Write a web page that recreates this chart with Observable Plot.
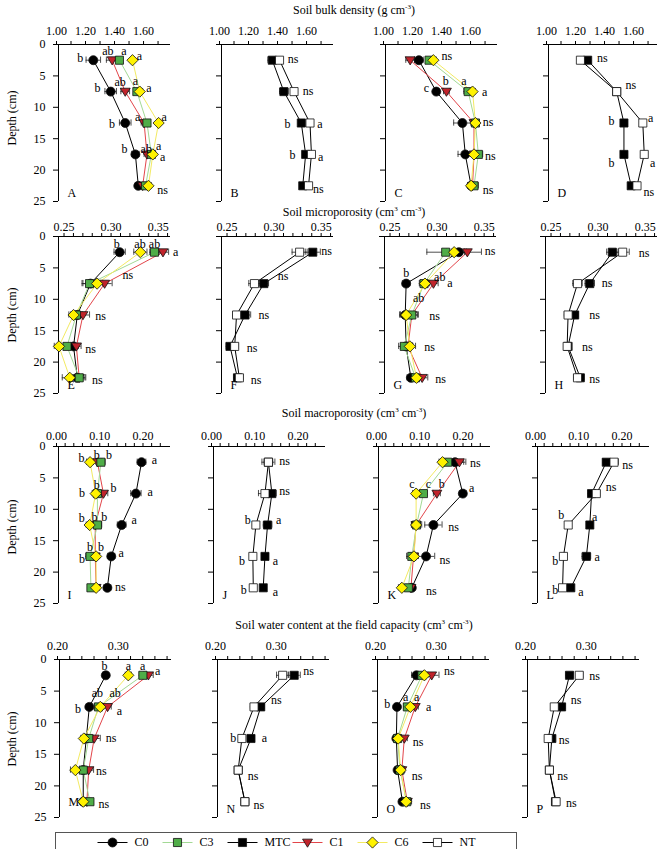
<!DOCTYPE html>
<html><head><meta charset="utf-8">
<script src="https://cdn.jsdelivr.net/npm/d3@7"></script>
<script src="https://cdn.jsdelivr.net/npm/@observablehq/plot@0.6"></script>
<style>
body{margin:0;background:#fff;}
#chart{position:relative;width:657px;height:849px;overflow:hidden;font-family:"Liberation Serif","Times New Roman",serif;color:#000;}
.title{position:absolute;font-size:12px;line-height:14px;white-space:nowrap;transform:translateX(-50%);}
.title sup{font-size:7px;vertical-align:5px;line-height:0;}
.ylab{position:absolute;font-size:12px;line-height:14px;white-space:nowrap;transform:translate(-50%,-50%) rotate(-90deg);}
</style></head><body><div id="chart"></div>
<script>
// ---------------- DATA ----------------
const depths = [2.5, 7.5, 12.5, 17.5, 22.5];

// tick marks and labelled ticks of the four top axes
const bdTicks = [1.0,1.1,1.2,1.3,1.4,1.5,1.6,1.7];
const bdTickLabels = [1.0,1.2,1.4,1.6];
const miTicks = [0.25,0.26,0.27,0.28,0.29,0.30,0.31,0.32,0.33,0.34,0.35,0.36];
const miTickLabels = [0.25,0.30,0.35];
const maTicks = [0,0.02,0.04,0.06,0.08,0.10,0.12,0.14,0.16,0.18,0.20,0.22,0.24];
const maTickLabels = [0,0.10,0.20];
const wcTicks = [0.20,0.22,0.24,0.26,0.28,0.30,0.32,0.34,0.36,0.38];
const wcTickLabels = [0.20,0.30];
const depthTicks = [0,5,10,15,20,25];

const treatments = ["C0","C1","C3","C6"];
const systems = ["MTC","NT"];
const legendOrder = ["C0","C3","MTC","C1","C6","NT"];

// Soil bulk density
const A_values = {C0:[1.24,1.36,1.46,1.53,1.55], C3:[1.42,1.54,1.61,1.64,1.60], C1:[1.37,1.46,1.59,1.61,1.58], C6:[1.51,1.56,1.69,1.65,1.62]};
const A_errors = {C0:[0.05,0.04,0.04,0.025,0.02], C3:[0.02,0.02,0.02,0.02,0.02], C1:[0.04,0.03,0.02,0.02,0.02], C6:[0.01,0.02,0.01,0.02,0.02]};
const A_labels = [[2.1,1.17,"b","end"],[1.1,1.34,"ab","middle"],[1.1,1.45,"a","middle"],[1.9,1.54,"a","start"],
  [7.0,1.29,"b","end"],[6.0,1.425,"ab","middle"],[5.9,1.53,"a","middle"],[6.9,1.605,"a","start"],
  [12.7,1.39,"b","end"],[11.5,1.545,"a","middle"],[11.5,1.71,"a","start"],
  [16.6,1.475,"b","end"],[16.7,1.605,"ab","middle"],[16.2,1.69,"a","middle"],[17.9,1.70,"a","start"],
  [23.2,1.68,"ns","start"]];

const B_values = {MTC:[1.35,1.43,1.55,1.58,1.56], NT:[1.40,1.50,1.61,1.62,1.60]};
const B_errors = {MTC:[0.03,0.03,0.02,0.02,0.02], NT:[0.02,0.02,0.02,0.02,0.02]};
const B_labels = [[2.4,1.457,"ns","start"],[7.4,1.56,"ns","start"],[12.7,1.475,"b","end"],[12.7,1.66,"a","start"],
  [17.7,1.51,"b","end"],[17.9,1.665,"a","start"],[23.1,1.63,"ns","start"]];

const C_values = {C0:[1.23,1.35,1.53,1.55,1.59], C3:[1.30,1.57,1.62,1.64,1.61], C1:[1.17,1.42,1.61,1.61,1.60], C6:[1.33,1.60,1.62,1.61,1.59]};
const C_errors = {C0:[0.03,0.02,0.06,0.05,0.02], C3:[0.02,0.03,0.02,0.03,0.03], C1:[0.03,0.02,0.02,0.02,0.02], C6:[0.02,0.02,0.02,0.02,0.02]};
const C_labels = [[1.8,1.386,"ns","start"],[6.9,1.30,"c","end"],[5.9,1.415,"b","middle"],[5.9,1.54,"a","middle"],
  [7.6,1.665,"a","start"],[12.4,1.67,"ns","start"],[17.8,1.685,"ns","start"],[23.2,1.67,"ns","start"]];

const D_values = {MTC:[1.27,1.47,1.52,1.52,1.57], NT:[1.22,1.47,1.65,1.66,1.61]};
const D_errors = {MTC:[0.02,0.02,0.02,0.01,0.02], NT:[0.02,0.02,0.01,0.01,0.02]};
const D_labels = [[2.1,1.334,"ns","start"],[6.5,1.53,"ns","start"],[12.2,1.455,"b","end"],[11.8,1.686,"a","start"],
  [18.9,1.455,"b","end"],[18.9,1.70,"a","start"],[23.5,1.655,"ns","start"]];

// Soil microporosity
const E_values = {C0:[0.307,0.276,0.262,0.258,0.262], C3:[0.344,0.275,0.261,0.251,0.264], C1:[0.353,0.291,0.268,0.261,0.264], C6:[0.329,0.283,0.258,0.2425,0.254]};
const E_errors = {C0:[0.006,0.008,0.005,0.005,0.006], C3:[0.005,0.008,0.006,0.006,0.006], C1:[0.006,0.008,0.007,0.005,0.007], C6:[0.007,0.006,0.005,0.005,0.008]};
const E_labels = [[1.2,0.304,"b","middle"],[1.2,0.3286,"ab","middle"],[1.2,0.344,"ab","middle"],[2.5,0.3636,"a","start"],
  [6.1,0.31,"ns","start"],[12.7,0.281,"ns","start"],[18.0,0.2704,"ns","start"],[22.9,0.2775,"ns","start"]];

const F_values = {MTC:[0.339,0.287,0.267,0.251,0.259], NT:[0.325,0.277,0.258,0.256,0.261]};
const F_errors = {MTC:[0.008,0.005,0.006,0.004,0.004], NT:[0.008,0.006,0.004,0.004,0.004]};
const F_labels = [[2.4,0.348,"ns","start"],[6.3,0.3018,"ns","start"],[12.5,0.2814,"ns","start"],[17.8,0.2689,"ns","start"],[22.9,0.2732,"ns","start"]];

const G_values = {C0:[0.321,0.265,0.264,0.265,0.270], C3:[0.307,0.284,0.271,0.263,0.275], C1:[0.330,0.294,0.271,0.267,0.282], C6:[0.316,0.285,0.265,0.269,0.276]};
const G_errors = {C0:[0.008,0.004,0.006,0.006,0.004], C3:[0.02,0.005,0.007,0.006,0.006], C1:[0.015,0.005,0.006,0.005,0.006], C6:[0.008,0.005,0.006,0.006,0.005]};
const G_labels = [[2.3,0.3486,"ns","start"],[5.9,0.265,"b","middle"],[6.4,0.3007,"ab","middle"],[7.4,0.3086,"a","start"],
  [9.8,0.2782,"ab","middle"],[12.7,0.2896,"ns","start"],[17.6,0.2843,"ns","start"],[22.7,0.296,"ns","start"]];

const H_values = {MTC:[0.313,0.289,0.273,0.266,0.279], NT:[0.324,0.276,0.266,0.265,0.276]};
const H_errors = {MTC:[0.006,0.005,0.004,0.003,0.004], NT:[0.007,0.005,0.004,0.003,0.004]};
const H_labels = [[2.6,0.341,"ns","start"],[7.4,0.3018,"ns","start"],[12.6,0.2886,"ns","start"],[17.7,0.2807,"ns","start"],[22.7,0.2886,"ns","start"]];

// Soil macroporosity
const I_values = {C0:[0.192,0.179,0.146,0.122,0.113], C3:[0.098,0.090,0.090,0.073,0.075], C1:[0.090,0.104,0.085,0.085,0.087], C6:[0.073,0.086,0.072,0.087,0.087]};
const I_errors = {C0:[0.01,0.012,0.01,0.008,0.008], C3:[0.01,0.01,0.01,0.01,0.008], C1:[0.01,0.01,0.01,0.008,0.008], C6:[0.008,0.008,0.008,0.008,0.008]};
const I_labels = [[1.8,0.060,"b","end"],[1.3,0.0885,"b","middle"],[1.3,0.117,"b","middle"],[2.1,0.2154,"a","start"],
  [7.4,0.0615,"b","end"],[6.2,0.0885,"b","middle"],[6.7,0.127,"b","middle"],[7.2,0.206,"a","start"],
  [11.4,0.054,"b","middle"],[11.3,0.083,"b","middle"],[11.3,0.106,"b","middle"],[11.7,0.169,"a","start"],
  [16.1,0.073,"b","middle"],[16.1,0.0985,"b","middle"],[17.9,0.0615,"b","end"],[17.0,0.1385,"a","start"],
  [22.4,0.1308,"ns","start"]];

const J_values = {MTC:[0.127,0.135,0.125,0.119,0.115], NT:[0.127,0.119,0.098,0.091,0.092]};
const J_errors = {MTC:[0.01,0.01,0.01,0.005,0.005], NT:[0.015,0.015,0.008,0.005,0.005]};
const J_labels = [[2.4,0.1523,"ns","start"],[7.1,0.1523,"ns","start"],[11.7,0.086,"b","end"],[11.7,0.1446,"a","start"],
  [18.2,0.073,"b","end"],[18.3,0.137,"a","start"],[22.8,0.077,"b","end"],[23.2,0.137,"a","start"]];

const K_values = {C0:[0.177,0.195,0.127,0.110,0.077], C3:[0.160,0.104,0.088,0.077,0.069], C1:[0.187,0.135,0.087,0.081,0.075], C6:[0.148,0.087,0.087,0.082,0.054]};
const K_errors = {C0:[0.02,0.008,0.02,0.02,0.008], C3:[0.01,0.008,0.012,0.012,0.008], C1:[0.015,0.008,0.01,0.01,0.008], C6:[0.008,0.008,0.01,0.01,0.008]};
const K_labels = [[2.6,0.2115,"ns","start"],[6.0,0.077,"c","middle"],[6.0,0.1154,"c","middle"],[6.0,0.146,"b","middle"],
  [6.6,0.209,"a","start"],[12.8,0.1615,"ns","start"],[18.1,0.1408,"ns","start"],[23.1,0.11,"ns","start"]];

const L_values = {MTC:[0.159,0.125,0.121,0.113,0.077], NT:[0.177,0.136,0.071,0.060,0.058]};
const L_errors = {MTC:[0.008,0.008,0.006,0.01,0.006], NT:[0.01,0.008,0.005,0.005,0.005]};
const L_labels = [[3.0,0.196,"ns","start"],[6.5,0.158,"ns","start"],[10.9,0.055,"b","middle"],[11.2,0.132,"a","middle"],
  [18.2,0.048,"b","end"],[17.7,0.132,"a","start"],[22.8,0.048,"b","end"],[23.2,0.094,"a","start"]];

// Soil water content at the field capacity
const M_values = {C0:[0.276,0.249,0.244,0.239,0.239], C3:[0.337,0.264,0.248,0.239,0.250], C1:[0.346,0.279,0.257,0.248,0.245], C6:[0.313,0.267,0.240,0.226,0.239]};
const M_errors = {C0:[0.005,0.005,0.005,0.004,0.004], C3:[0.006,0.007,0.008,0.006,0.004], C1:[0.008,0.006,0.01,0.008,0.005], C6:[0.005,0.005,0.005,0.008,0.004]};
const M_labels = [[1.1,0.2738,"b","middle"],[1.1,0.313,"a","middle"],[1.1,0.3366,"a","middle"],[1.9,0.3568,"a","start"],
  [7.8,0.2355,"b","end"],[5.4,0.2623,"ab","middle"],[5.4,0.2913,"ab","middle"],[8.2,0.294,"a","start"],
  [12.4,0.276,"ns","start"],[17.6,0.26,"ns","start"],[22.9,0.264,"ns","start"]];

const N_values = {MTC:[0.326,0.271,0.255,0.234,0.245], NT:[0.307,0.260,0.240,0.234,0.245]};
const N_errors = {MTC:[0.01,0.006,0.005,0.004,0.004], NT:[0.01,0.006,0.004,0.004,0.004]};
const N_labels = [[1.9,0.341,"ns","start"],[6.5,0.288,"ns","start"],[12.4,0.2306,"b","end"],[12.4,0.2727,"a","start"],
  [18.5,0.2497,"ns","start"],[23.0,0.259,"ns","start"]];

const O_values = {C0:[0.264,0.232,0.231,0.233,0.241], C3:[0.273,0.249,0.233,0.237,0.248], C1:[0.289,0.262,0.244,0.240,0.249], C6:[0.277,0.254,0.234,0.238,0.247]};
const O_errors = {C0:[0.008,0.004,0.005,0.005,0.005], C3:[0.006,0.006,0.005,0.005,0.008], C1:[0.012,0.005,0.005,0.005,0.006], C6:[0.006,0.005,0.005,0.006,0.006]};
const O_labels = [[1.8,0.3093,"ns","start"],[7.1,0.2208,"b","end"],[6.0,0.2464,"a","middle"],[5.9,0.2645,"a","middle"],
  [7.6,0.2798,"a","start"],[13.0,0.258,"ns","start"],[18.4,0.2563,"ns","start"],[23.0,0.27,"ns","start"]];

const P_values = {MTC:[0.269,0.256,0.240,0.236,0.246], NT:[0.285,0.244,0.234,0.236,0.247]};
const P_errors = {MTC:[0.006,0.006,0.004,0.003,0.003], NT:[0.006,0.004,0.004,0.003,0.003]};
const P_labels = [[2.6,0.3016,"ns","start"],[6.5,0.271,"ns","start"],[12.8,0.2514,"ns","start"],[18.5,0.249,"ns","start"],[22.7,0.2634,"ns","start"]];

// ---------------- STYLE / LAYOUT ----------------
const symSquare = {draw(ctx, size){const r=Math.sqrt(size/Math.PI), h=r*0.9; ctx.moveTo(-h,-h); ctx.lineTo(h,-h); ctx.lineTo(h,h); ctx.lineTo(-h,h); ctx.closePath();}};
const symTriDown = {draw(ctx, size){const r=Math.sqrt(size/Math.PI), w=r*1.1; ctx.moveTo(-w,-r*0.75); ctx.lineTo(w,-r*0.75); ctx.lineTo(0,r*1.05); ctx.closePath();}};
const symDiamond = {draw(ctx, size){const r=Math.sqrt(size/Math.PI), d=r*1.25; ctx.moveTo(0,-d); ctx.lineTo(d,0); ctx.lineTo(0,d); ctx.lineTo(-d,0); ctx.closePath();}};
const symHLine = {draw(ctx){ctx.moveTo(-15,0); ctx.lineTo(15,0);}};

const seriesStyle = {
  C0:  {symbol:"circle",   fill:"#000000", line:"#000000"},
  C3:  {symbol:symSquare,  fill:"#4fad48", line:"#a3d995"},
  MTC: {symbol:symSquare,  fill:"#000000", line:"#000000"},
  C1:  {symbol:symTriDown, fill:"#c0232b", line:"#e2454a"},
  C6:  {symbol:symDiamond, fill:"#fff200", line:"#f3ea63"},
  NT:  {symbol:symSquare,  fill:"#ffffff", line:"#000000"}
};

const rowCfg = [
  {title:'Soil bulk density (g cm<sup>-3</sup>)', titleY:3, top:44, span:157, domain:[1.0,1.772], ticks:bdTicks, tickLabels:bdTickLabels, pad:6, ylabY:118},
  {title:'Soil microporosity (cm<sup>3</sup> cm<sup>-3</sup>)', titleY:205, top:236, span:157, domain:[0.242,0.361], ticks:miTicks, tickLabels:miTickLabels, pad:2, ylabY:315},
  {title:'Soil macroporosity (cm<sup>3</sup> cm<sup>-3</sup>)', titleY:406, top:446, span:157, domain:[0,0.259], ticks:maTicks, tickLabels:maTickLabels, pad:3, ylabY:527},
  {title:'Soil water content at the field capacity (cm<sup>3</sup> cm<sup>-3</sup>)', titleY:618, top:659, span:158, domain:[0.2,0.384], ticks:wcTicks, tickLabels:wcTickLabels, pad:6, ylabY:739}
];

const panels = [
  {id:"A", row:0, col:0, left:58,  series:treatments, values:A_values, errors:A_errors, labels:A_labels},
  {id:"B", row:0, col:1, left:221, series:systems,    values:B_values, errors:B_errors, labels:B_labels},
  {id:"C", row:0, col:2, left:385, series:treatments, values:C_values, errors:C_errors, labels:C_labels},
  {id:"D", row:0, col:3, left:548, series:systems,    values:D_values, errors:D_errors, labels:D_labels},
  {id:"E", row:1, col:0, left:58,  series:treatments, values:E_values, errors:E_errors, labels:E_labels},
  {id:"F", row:1, col:1, left:221, series:systems,    values:F_values, errors:F_errors, labels:F_labels},
  {id:"G", row:1, col:2, left:384, series:treatments, values:G_values, errors:G_errors, labels:G_labels},
  {id:"H", row:1, col:3, left:545, series:systems,    values:H_values, errors:H_errors, labels:H_labels},
  {id:"I", row:2, col:0, left:58,  series:treatments, values:I_values, errors:I_errors, labels:I_labels},
  {id:"J", row:2, col:1, left:213, series:systems,    values:J_values, errors:J_errors, labels:J_labels},
  {id:"K", row:2, col:2, left:378, series:treatments, values:K_values, errors:K_errors, labels:K_labels},
  {id:"L", row:2, col:3, left:537, series:systems,    values:L_values, errors:L_errors, labels:L_labels},
  {id:"M", row:3, col:0, left:59,  series:treatments, values:M_values, errors:M_errors, labels:M_labels, letterDy:-12},
  {id:"N", row:3, col:1, left:217, series:systems,    values:N_values, errors:N_errors, labels:N_labels},
  {id:"O", row:3, col:2, left:377, series:treatments, values:O_values, errors:O_errors, labels:O_labels},
  {id:"P", row:3, col:3, left:527, series:systems,    values:P_values, errors:P_errors, labels:P_labels}
];

const chart = document.getElementById("chart");
const svgStyle = {fontFamily:'"Liberation Serif","Times New Roman",serif', fontSize:"12px", overflow:"visible", background:"transparent", color:"#000"};
const near = (arr, v) => arr.some(t => Math.abs(t - v) < 1e-9);

// titles & y labels
rowCfg.forEach(rc => {
  const t = document.createElement("div");
  t.className = "title"; t.innerHTML = rc.title;
  t.style.left = "354px"; t.style.top = rc.titleY + "px";
  chart.appendChild(t);
  const y = document.createElement("div");
  y.className = "ylab"; y.textContent = "Depth (cm)";
  y.style.left = "12px"; y.style.top = rc.ylabY + "px";
  chart.appendChild(y);
});

// panels
const mL = 45, mR = 60, mT = 30, mB = 12, innerW = 112;
panels.forEach(p => {
  const rc = rowCfg[p.row];
  const pts = p.series.flatMap(s => depths.map((d, i) => ({
    series: s, depth: d, value: p.values[s][i],
    lo: p.values[s][i] - p.errors[s][i], hi: p.values[s][i] + p.errors[s][i]
  })));
  const labs = p.labels.map(([depth, value, text, anchor]) => ({depth, value, text, anchor}));
  const marks = [
    Plot.ruleY([0], {x1: rc.domain[0], x2: rc.domain[1], stroke: "#000", strokeWidth: 1}),
    Plot.ruleX([rc.domain[0]], {y1: 0, y2: 25, stroke: "#000", strokeWidth: 1}),
    Plot.axisX({anchor: "top", ticks: rc.ticks, tickSize: 4, tickPadding: rc.pad, label: null, dx: -2,
      tickFormat: v => near(rc.tickLabels, v) ? v.toFixed(2) : ""}),
    Plot.axisY({anchor: "left", ticks: depthTicks, tickSize: 5, tickPadding: 8, label: null,
      tickFormat: v => p.col === 0 ? String(v) : ""}),
    ...p.series.map(s => Plot.line(pts.filter(d => d.series === s), {x: "value", y: "depth", stroke: seriesStyle[s].line, strokeWidth: 1})),
    Plot.ruleY(pts, {y: "depth", x1: "lo", x2: "hi", stroke: "#222", strokeWidth: 0.8}),
    Plot.ruleX(pts, {x: "lo", y1: d => d.depth - 0.5, y2: d => d.depth + 0.5, stroke: "#222", strokeWidth: 0.8}),
    Plot.ruleX(pts, {x: "hi", y1: d => d.depth - 0.5, y2: d => d.depth + 0.5, stroke: "#222", strokeWidth: 0.8}),
    ...p.series.map(s => Plot.dot(pts.filter(d => d.series === s), {x: "value", y: "depth", r: 4.5,
      symbol: seriesStyle[s].symbol, fill: seriesStyle[s].fill, stroke: "#111", strokeWidth: 0.8})),
    ...["start", "middle", "end"].map(a => Plot.text(labs.filter(l => l.anchor === a), {x: "value", y: "depth", text: "text", textAnchor: a, fill: "#000"})),
    Plot.text([p.id], {text: d => d, frameAnchor: "bottom-left", dx: 9, dy: p.letterDy ?? -5, textAnchor: "start", fill: "#000"})
  ];
  const svg = Plot.plot({
    width: mL + innerW + mR, height: mT + rc.span + mB,
    marginLeft: mL, marginRight: mR, marginTop: mT, marginBottom: mB,
    x: {domain: rc.domain},
    y: {domain: [0, 25], reverse: true},
    style: svgStyle,
    marks
  });
  svg.style.position = "absolute";
  svg.style.left = (p.left - mL) + "px";
  svg.style.top = (rc.top - mT) + "px";
  svg.style.maxWidth = "none";
  chart.appendChild(svg);
});

// legend (box open at the bottom edge, as in the reference)
const legend = Plot.plot({
  width: 657, height: 21, marginTop: 4, marginBottom: -3, marginLeft: 55, marginRight: 141,
  x: {type: "point", domain: legendOrder, range: [78, 470], axis: null},
  style: svgStyle,
  marks: [
    Plot.frame({stroke: "#555", strokeWidth: 1}),
    ...legendOrder.map(s => Plot.dot([s], {x: d => d, symbol: symHLine, r: 1, fill: "none", stroke: seriesStyle[s].line, strokeWidth: 1})),
    ...legendOrder.map(s => Plot.dot([s], {x: d => d, symbol: seriesStyle[s].symbol, r: 4.5, fill: seriesStyle[s].fill, stroke: "#111", strokeWidth: 0.8})),
    Plot.text(legendOrder, {x: d => d, text: d => d, dx: 22, textAnchor: "start", fill: "#000"})
  ]
});
legend.style.position = "absolute";
legend.style.left = "0px";
legend.style.top = "828px";
legend.style.maxWidth = "none";
chart.appendChild(legend);
</script>
</body></html>
